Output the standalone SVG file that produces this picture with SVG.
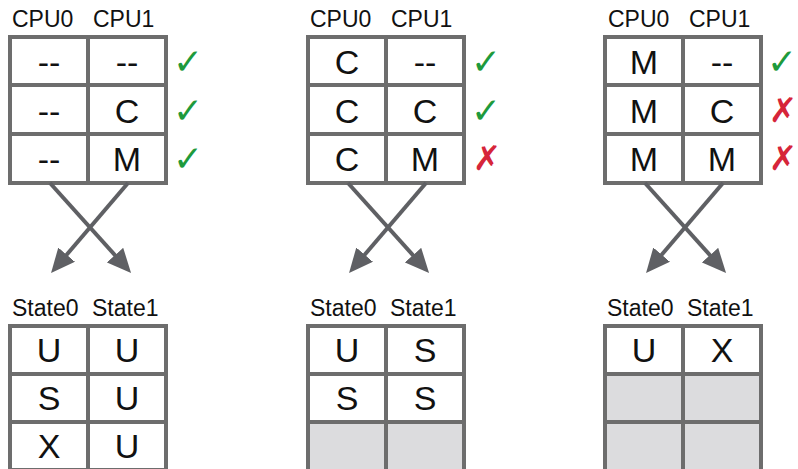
<svg xmlns="http://www.w3.org/2000/svg" width="798" height="469" viewBox="0 0 798 469">
  <style>
    .grid { fill: #ffffff; stroke: #6d6d6d; stroke-width: 4; }
    .gray { fill: #dcdcde; stroke: none; }
    .line { stroke: #6d6d6d; stroke-width: 4; fill: none; }
    .hdr { font-family: "Liberation Sans", Arial, sans-serif; font-size: 23px; fill: #111111; }
    .cell { font-family: "Liberation Sans", Arial, sans-serif; font-size: 34px; fill: #111111; text-anchor: middle; }
    .ok { font-family: "DejaVu Sans", sans-serif; font-weight: bold; font-size: 36px; fill: #1e9a3c; text-anchor: middle; }
    .bad { font-family: "DejaVu Sans", sans-serif; font-weight: bold; font-size: 34px; fill: #d6253a; text-anchor: middle; }
    .arrow { stroke: #5f6064; stroke-width: 4; fill: none; marker-end: url(#head); }
  </style>
  <defs>
    <marker id="head" markerUnits="userSpaceOnUse" markerWidth="24" markerHeight="22" refX="3" refY="11" orient="auto" viewBox="0 0 24 22">
      <path d="M0,0 L24,11 L0,22 z" fill="#5f6064"/>
    </marker>
  </defs>
  <rect width="798" height="469" fill="#ffffff"/>

  <!-- CPU tables -->
  <g id="cpu-table-1">
    <text class="hdr" x="12" y="27">CPU0</text>
    <text class="hdr" x="93" y="27">CPU1</text>
    <rect class="grid" x="10" y="37" width="156" height="146"/>
    <path class="line" d="M88,37 V183 M10,85 H166 M10,134 H166"/>
    <text class="cell" x="49" y="74">--</text><text class="cell" x="127" y="74">--</text>
    <text class="cell" x="49" y="123">--</text><text class="cell" x="127" y="123">C</text>
    <text class="cell" x="49" y="171">--</text><text class="cell" x="127" y="171">M</text>
    <text class="ok" x="188" y="74">✓</text>
    <text class="ok" x="188" y="123">✓</text>
    <text class="ok" x="188" y="171">✓</text>
  </g>

  <g id="cpu-table-2">
    <text class="hdr" x="310" y="27">CPU0</text>
    <text class="hdr" x="391" y="27">CPU1</text>
    <rect class="grid" x="308" y="37" width="156" height="146"/>
    <path class="line" d="M386,37 V183 M308,85 H464 M308,134 H464"/>
    <text class="cell" x="347" y="74">C</text><text class="cell" x="425" y="74">--</text>
    <text class="cell" x="347" y="123">C</text><text class="cell" x="425" y="123">C</text>
    <text class="cell" x="347" y="171">C</text><text class="cell" x="425" y="171">M</text>
    <text class="ok" x="486" y="74">✓</text>
    <text class="ok" x="486" y="123">✓</text>
    <text class="bad" x="487" y="170">✗</text>
  </g>

  <g id="cpu-table-3">
    <text class="hdr" x="608" y="27">CPU0</text>
    <text class="hdr" x="689" y="27">CPU1</text>
    <rect class="grid" x="605" y="37" width="156" height="146"/>
    <path class="line" d="M683,37 V183 M605,85 H761 M605,134 H761"/>
    <text class="cell" x="644" y="74">M</text><text class="cell" x="722" y="74">--</text>
    <text class="cell" x="644" y="123">M</text><text class="cell" x="722" y="123">C</text>
    <text class="cell" x="644" y="171">M</text><text class="cell" x="722" y="171">M</text>
    <text class="ok" x="782" y="74">✓</text>
    <text class="bad" x="783" y="122">✗</text>
    <text class="bad" x="783" y="170">✗</text>
  </g>

  <!-- crossing connectors between each CPU table and its state table -->
  <g id="connectors">
    <path class="arrow" d="M50,183 L117,257.4"/>
    <path class="arrow" d="M128,183 L64.7,257"/>
    <path class="arrow" d="M348,183 L415,257.4"/>
    <path class="arrow" d="M426,183 L362.7,257"/>
    <path class="arrow" d="M645,183 L712,257.4"/>
    <path class="arrow" d="M723,183 L659.7,257"/>
  </g>

  <!-- State tables -->
  <g id="state-table-1">
    <text class="hdr" x="12" y="316">State0</text>
    <text class="hdr" x="92" y="316">State1</text>
    <rect class="grid" x="10" y="326" width="156" height="144"/>
    <path class="line" d="M88,326 V470 M10,374 H166 M10,422 H166"/>
    <text class="cell" x="49" y="362">U</text><text class="cell" x="127" y="362">U</text>
    <text class="cell" x="49" y="410">S</text><text class="cell" x="127" y="410">U</text>
    <text class="cell" x="49" y="458">X</text><text class="cell" x="127" y="458">U</text>
  </g>

  <g id="state-table-2">
    <text class="hdr" x="310" y="316">State0</text>
    <text class="hdr" x="390" y="316">State1</text>
    <rect class="grid" x="308" y="326" width="156" height="144"/>
    <rect class="gray" x="308" y="422" width="156" height="48"/>
    <path class="line" d="M386,326 V470 M308,374 H464 M308,422 H464 M308,422 V470 M464,422 V470"/>
    <text class="cell" x="347" y="362">U</text><text class="cell" x="425" y="362">S</text>
    <text class="cell" x="347" y="410">S</text><text class="cell" x="425" y="410">S</text>
  </g>

  <g id="state-table-3">
    <text class="hdr" x="607" y="316">State0</text>
    <text class="hdr" x="687" y="316">State1</text>
    <rect class="grid" x="605" y="326" width="156" height="144"/>
    <rect class="gray" x="605" y="374" width="156" height="96"/>
    <path class="line" d="M683,326 V470 M605,374 H761 M605,422 H761 M605,374 V470 M761,374 V470"/>
    <text class="cell" x="644" y="362">U</text><text class="cell" x="722" y="362">X</text>
  </g>
</svg>
